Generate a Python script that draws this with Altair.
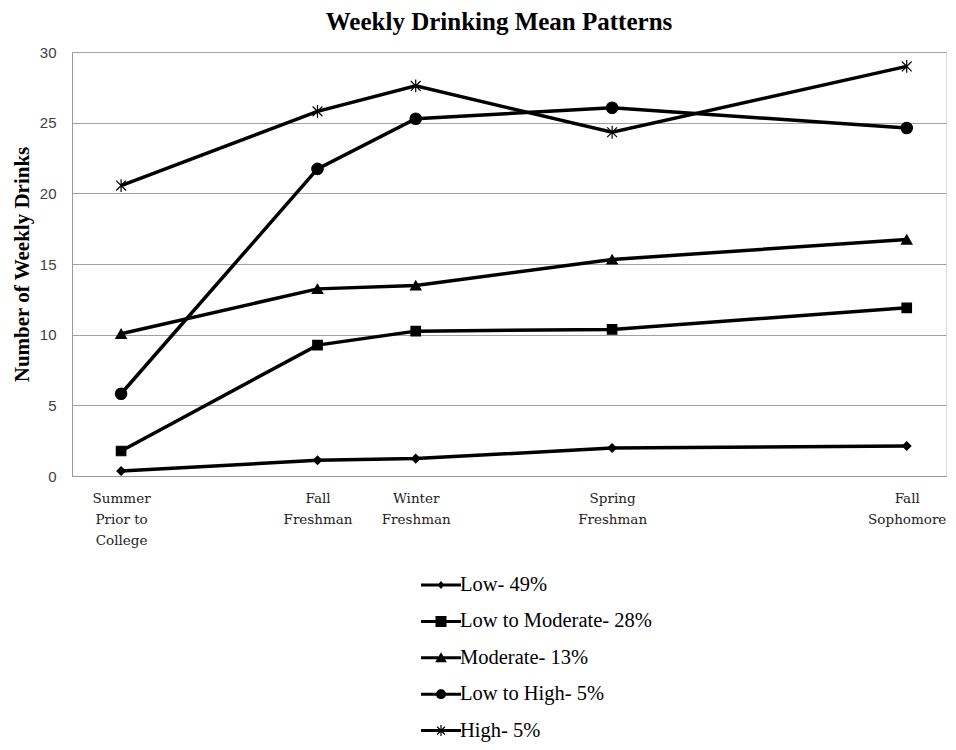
import math
import altair as alt
import pandas as pd

# ---------------- data ----------------
periods = ["Summer\nPrior to\nCollege", "Fall\nFreshman", "Winter\nFreshman",
           "Spring\nFreshman", "Fall\nSophomore"]
months = [0, 4, 6, 10, 16]          # time since summer prior to college
series = ["Low- 49%", "Low to Moderate- 28%", "Moderate- 13%",
          "Low to High- 5%", "High- 5%"]
low = [0.35, 1.11, 1.23, 1.98, 2.12]
low_mod = [1.77, 9.26, 10.25, 10.37, 11.90]
moderate = [10.06, 13.24, 13.48, 15.32, 16.73]
low_high = [5.82, 21.73, 25.28, 26.06, 24.62]
high = [20.55, 25.80, 27.60, 24.32, 28.98]

values = [low, low_mod, moderate, low_high, high]
rows = []
for s, vals in zip(series, values):
    for m, p, v in zip(months, periods, vals):
        rows.append({"series": s, "month": m, "period": p, "value": v})
df = pd.DataFrame(rows)

# ---------------- marker styles ----------------
def path(pts):
    return "M" + "L".join(f"{x:.3f},{y:.3f}" for x, y in pts) + "Z"

def poly(r, n=18):
    return path([(r * math.cos(2 * math.pi * k / n), r * math.sin(2 * math.pi * k / n))
                 for k in range(n)])

def bar(length, thick, angle_deg):
    # clockwise rectangle centred on origin, rotated by angle
    a = math.radians(angle_deg)
    c, s = math.cos(a), math.sin(a)
    pts = [(-length, -thick), (length, -thick), (length, thick), (-length, thick)]
    return path([(x * c - y * s, x * s + y * c) for x, y in pts])

asterisk = "M-0.8,-0.8L0.8,0.8M-0.8,0.8L0.8,-0.8M0,-1.05V1.05"
point_shapes = ["diamond", "square", "triangle-up", "circle", asterisk]
point_sizes = [70, 150, 160, 120, 150]

# legend symbols: a short line with the marker, drawn as filled shapes
line_seg = bar(2.0, 0.15, 0)
legend_shapes = [
    line_seg + path([(0, -0.4), (0.34, 0), (0, 0.4), (-0.34, 0)]),
    line_seg + path([(-0.55, -0.55), (0.55, -0.55), (0.55, 0.55), (-0.55, 0.55)]),
    line_seg + path([(0, -0.55), (0.58, 0.45), (-0.58, 0.45)]),
    line_seg + poly(0.5),
    line_seg + bar(0.55, 0.06, 0) + bar(0.55, 0.06, 90) + bar(0.55, 0.06, 45) + bar(0.55, 0.06, 135),
]

label_expr = "split(" + " : ".join(
    f"datum.value == {m} ? '{p.replace(chr(10), '|')}'" for m, p in zip(months, periods)
) + " : '', '|')"

x_enc = alt.X("month:Q",
              scale=alt.Scale(domain=[-1, 16.8], nice=False, zero=False),
              axis=alt.Axis(values=months, labelExpr=label_expr, title=None,
                            grid=False, ticks=False, domain=True, domainColor="#999999",
                            labelFont="DejaVu Serif", labelFontSize=13.5, labelColor="#222222",
                            labelPadding=15, labelLineHeight=21, labelFlush=False,
                            labelOverlap=False, labelBound=False))
y_enc = alt.Y("value:Q",
              scale=alt.Scale(domain=[0, 30], nice=False),
              axis=alt.Axis(values=list(range(0, 31, 5)), title="Number of Weekly Drinks",
                            titleFont="Liberation Serif", titleFontSize=21,
                            titleFontWeight="bold", titleColor="black", titlePadding=7,
                            labelFont="Liberation Sans", labelFontSize=15,
                            labelColor="#404040", labelPadding=16, ticks=False,
                            domain=True, domainColor="#999999",
                            gridColor="#a0a0a0", gridWidth=1))

base = alt.Chart(df)

lines = base.mark_line(color="black", strokeWidth=3.5).encode(
    x=x_enc, y=y_enc, detail="series:N")

points = base.mark_point(filled=True, fill="black", stroke="black", strokeWidth=1.2,
                         opacity=1).encode(
    x=x_enc, y=y_enc,
    shape=alt.Shape("series:N", scale=alt.Scale(domain=series, range=point_shapes), legend=None),
    size=alt.Size("series:N", scale=alt.Scale(domain=series, range=point_sizes), legend=None),
)

legend_layer = base.transform_filter("datum.value < -999").mark_point(
    filled=True, color="black", opacity=1).encode(
    x=x_enc, y=y_enc,
    shape=alt.Shape("series:N", scale=alt.Scale(domain=series, range=legend_shapes),
                    legend=alt.Legend(title=None, orient="none", legendX=358, legendY=522,
                                      direction="vertical", columns=1, symbolSize=400,
                                      symbolFillColor="black", symbolOpacity=1,
                                      labelFont="Liberation Serif", labelFontSize=20.5,
                                      labelColor="black", labelOffset=8, rowPadding=14.4,
                                      padding=0, labelLimit=400)),
)

chart = alt.layer(lines, points, legend_layer).resolve_scale(
    shape="independent", size="independent"
).properties(
    width=874, height=424,
    title=alt.TitleParams("Weekly Drinking Mean Patterns", font="Liberation Serif",
                          fontSize=25, fontWeight="bold", color="black",
                          anchor="middle", dx=-10, offset=10),
    autosize=alt.AutoSizeParams(type="none"),
    padding={"left": 64, "top": 44, "right": 2, "bottom": 266},
).configure_view(stroke=None).configure(background="white")

chart.save("out.html", embed_options={"renderer": "svg", "actions": False})
